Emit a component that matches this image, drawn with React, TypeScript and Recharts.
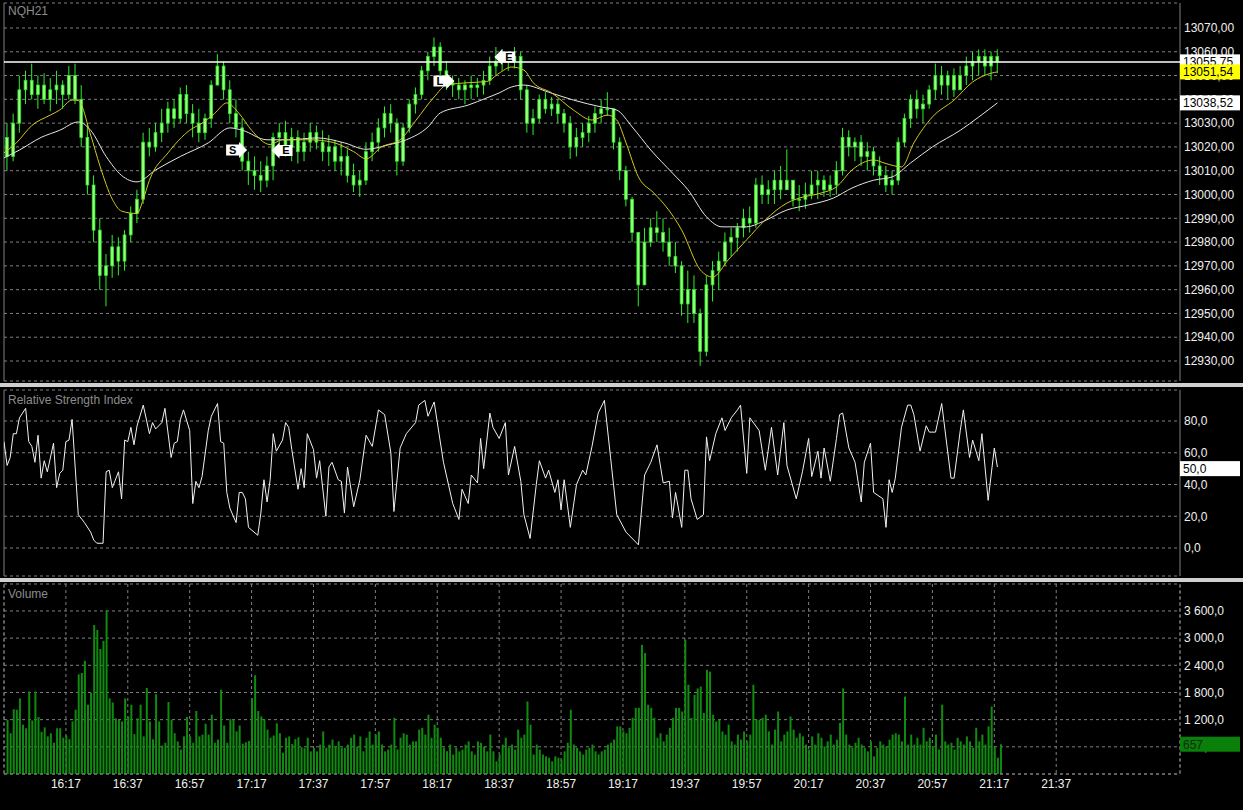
import React from "react";
import {
  ComposedChart,
  Bar,
  Line,
  XAxis,
  YAxis,
  CartesianGrid,
  ReferenceLine,
  ReferenceDot,
} from "recharts";

// minutes are counted from 15:57, the left edge of the plot
const START = 15 * 60 + 57;

const timeTicks = [
  "16:17", "16:37", "16:57", "17:17", "17:37", "17:57", "18:17", "18:37", "18:57",
  "19:17", "19:37", "19:57", "20:17", "20:37", "20:57", "21:17", "21:37",
];
const priceTicks = [12930, 12940, 12950, 12960, 12970, 12980, 12990, 13000, 13010, 13020, 13030, 13040, 13050, 13060, 13070];
const rsiTicks = [0, 20, 40, 50, 60, 80];
const volumeTicks = [0, 600, 1200, 1800, 2400, 3000, 3600];

// 2-minute candles, 15:58 .. 21:18
const firstOpen = 13024;
const highs = [
  13030, 13034, 13050, 13052, 13055, 13050, 13051, 13049, 13052, 13048,
  13054, 13055, 13046, 13030, 13008, 12990, 12975, 12983, 12982, 12985,
  12995, 13002, 13026, 13028, 13030, 13036, 13039, 13040, 13045, 13046,
  13038, 13036, 13034, 13048, 13059, 13056, 13048, 13040, 13032, 13018,
  13016, 13014, 13016, 13026, 13030, 13031, 13028, 13027, 13026, 13030,
  13029, 13027, 13025, 13023, 13022, 13019, 13013, 13010, 13022, 13026,
  13032, 13037, 13038, 13032, 13030, 13040, 13045, 13054, 13060, 13066,
  13064, 13056, 13050, 13049, 13048, 13050, 13049, 13052, 13058, 13062,
  13061, 13060, 13062, 13060, 13046, 13036, 13042, 13043, 13041, 13040,
  13036, 13033, 13028, 13030, 13033, 13037, 13040, 13043, 13036, 13024,
  13012, 12999, 12984, 12986, 12990, 12993, 12990, 12986, 12980, 12972,
  12968, 12966, 12952, 12966, 12972, 12976, 12984, 12986, 12988, 12994,
  12995, 13007, 13008, 13006, 13010, 13012, 13019, 13006, 13004, 13005,
  13010, 13010, 13008, 13008, 13014, 13028, 13027, 13024, 13025, 13022,
  13020, 13016, 13012, 13010, 13024, 13034, 13042, 13044, 13042, 13046,
  13055, 13054, 13052, 13053, 13054, 13058, 13060, 13061, 13061, 13060,
  13061,
];
const lows = [
  13010, 13014, 13026, 13038, 13040, 13036, 13038, 13035, 13038, 13036,
  13040, 13038, 13020, 13000, 12980, 12960, 12953, 12965, 12966, 12968,
  12980, 12988, 12996, 13016, 13018, 13022, 13026, 13028, 13030, 13030,
  13024, 13022, 13023, 13028, 13046, 13040, 13030, 13024, 13010, 13004,
  13002, 13001, 13003, 13006, 13018, 13016, 13014, 13013, 13014, 13018,
  13019, 13014, 13012, 13010, 13008, 13005, 13001, 12999, 13004, 13014,
  13018, 13024, 13026, 13008, 13012, 13026, 13034, 13040, 13048, 13054,
  13050, 13044, 13041, 13040, 13038, 13040, 13041, 13042, 13046, 13050,
  13052, 13052, 13053, 13040, 13026, 13025, 13030, 13034, 13033, 13030,
  13026, 13015, 13016, 13020, 13022, 13026, 13030, 13033, 13019, 13006,
  12995, 12980, 12953, 12962, 12978, 12980, 12976, 12970, 12967, 12949,
  12946, 12946, 12928, 12932, 12955, 12960, 12970, 12974, 12976, 12982,
  12984, 12986, 12996, 12996, 12996, 12998, 13002, 12995, 12993, 12994,
  12998, 12998, 12999, 12999, 13000, 13008, 13016, 13014, 13012, 13010,
  13008, 13004, 13001, 13000, 13004, 13020, 13028, 13032, 13030, 13036,
  13040, 13042, 13040, 13041, 13044, 13046, 13048, 13050, 13050, 13048,
  13051,
];
const closes = [
  13016, 13030, 13044, 13048, 13042, 13046, 13040, 13044, 13046, 13042,
  13050, 13040, 13024, 13004, 12985, 12966, 12970, 12978, 12972, 12983,
  12992, 12998, 13022, 13020, 13026, 13030, 13036, 13032, 13042, 13034,
  13030, 13026, 13032, 13046, 13054, 13044, 13034, 13028, 13014, 13010,
  13008, 13006, 13012, 13024, 13026, 13020, 13024, 13018, 13022, 13026,
  13022, 13018, 13020, 13014, 13016, 13008, 13004, 13006, 13018, 13022,
  13028, 13034, 13030, 13014, 13028, 13038, 13042, 13052, 13058, 13062,
  13052, 13047, 13046, 13044, 13046, 13045, 13046, 13048, 13054, 13056,
  13058, 13056, 13058, 13044, 13030, 13032, 13040, 13036, 13038, 13034,
  13030, 13020, 13024, 13026, 13030, 13034, 13036, 13036, 13022, 13010,
  12998, 12984, 12962, 12980, 12986, 12984, 12980, 12974, 12970, 12954,
  12960, 12950, 12934, 12962, 12968, 12972, 12980, 12982, 12986, 12990,
  12988, 13004, 13000, 13002, 13006, 13002, 13006, 12998, 12998, 13000,
  13004, 13006, 13002, 13004, 13010, 13024, 13020, 13022, 13016, 13018,
  13012, 13008, 13004, 13006, 13022, 13032, 13040, 13036, 13038, 13044,
  13050, 13046, 13050, 13044, 13050, 13054, 13056, 13058, 13054, 13058,
  13055.75,
];

// [minute, value]
const yellowMa = [
  [0, 13017.5], [4, 13021.7], [9, 13029], [15, 13033.4], [18, 13035.5], [22, 13039.7], [24, 13039.5],
  [28, 13025], [31, 13012], [35, 12998], [38, 12993], [43, 12992], [45, 12998], [47, 13006],
  [53, 13017.5], [60, 13027], [64, 13030], [68, 13034], [72, 13038.5], [76, 13034], [80, 13027],
  [86, 13021], [90, 13023], [99, 13023], [106, 13022], [113, 13018], [117, 13015], [122, 13020],
  [128, 13023], [133, 13031], [139, 13041], [143, 13046], [150, 13047], [156, 13047.5], [160, 13051],
  [164, 13053.6], [168, 13052.3], [171, 13047], [177, 13042.7], [184, 13035.5], [190, 13031.3],
  [195, 13033.4], [198, 13031.3], [201, 13021.7], [205, 13007.4], [210, 13000.6], [214, 12994.8],
  [219, 12985], [225, 12968.3], [229, 12965.3], [234, 12972.5], [240, 12981], [246, 12989.3],
  [253, 12996.4], [257, 12998.5], [264, 13000.6], [269, 13003.2], [274, 13010.3], [281, 13014.5],
  [285, 13013], [290, 13011.6], [294, 13021.7], [300, 13032.6], [307, 13039.7], [313, 13047.3],
  [319, 13051], [321, 13051.54],
];
const whiteMa = [
  [0, 13015.4], [5, 13018.7], [12, 13024], [18, 13027], [24, 13030.5], [28, 13027], [33, 13016],
  [38, 13008], [43, 13005.3], [49, 13010.3], [57, 13016], [66, 13021.7], [73, 13028], [77, 13027],
  [85, 13023], [92, 13023], [101, 13023.8], [110, 13021.7], [117, 13019], [124, 13020.8],
  [130, 13023], [137, 13028.4], [141, 13034.3], [150, 13037.6], [156, 13040.6], [160, 13042.7],
  [164, 13045.2], [168, 13046], [176, 13043], [184, 13039.7], [193, 13036.8], [198, 13035.5],
  [203, 13028.4], [209, 13018.7], [216, 13009], [221, 13002], [227, 12990.6], [232, 12986.4],
  [240, 12986.4], [245, 12988.5], [253, 12993.5], [260, 12995.6], [268, 12998.5], [274, 13002.7],
  [281, 13006], [287, 13007.4], [293, 13013.3], [300, 13020], [309, 13027], [315, 13032.6],
  [321, 13038.52],
];

// [minute, RSI]
const rsi = [
  [0, 67], [1, 52], [2, 57], [3, 72], [4, 72], [5, 82], [7, 88], [8, 67], [9, 64], [10, 54],
  [11, 71], [12, 44], [13, 55], [14, 48], [16, 66], [17, 38], [18, 47], [19, 49], [20, 67], [21, 68],
  [22, 81], [23, 51], [24, 21], [26, 16], [28, 10], [29, 5], [30, 3], [32, 3], [33, 48], [34, 49],
  [35, 38], [37, 48], [38, 31], [39, 68], [40, 67], [41, 76], [42, 65], [43, 77], [45, 90], [47, 72],
  [48, 79], [49, 75], [51, 79], [52, 88], [54, 57], [55, 66], [56, 67], [57, 81], [58, 87], [60, 74],
  [61, 28], [62, 42], [63, 38], [64, 45], [66, 74], [67, 83], [69, 91], [70, 67], [71, 66], [72, 35],
  [73, 25], [75, 16], [76, 35], [77, 35], [78, 31], [79, 13], [82, 8], [83, 22], [84, 43], [85, 29],
  [86, 43], [87, 72], [88, 61], [90, 68], [91, 79], [92, 76], [93, 62], [95, 37], [96, 50],
  [97, 38], [98, 72], [100, 62], [101, 44], [102, 55], [104, 20], [105, 51], [106, 54], [108, 43],
  [109, 42], [110, 22], [111, 51], [113, 26], [115, 43], [117, 71], [119, 64], [121, 87], [123, 84],
  [125, 60], [126, 23], [128, 63], [130, 72], [133, 79], [134, 90], [136, 93], [137, 83], [139, 92],
  [142, 54], [145, 28], [147, 18], [148, 37], [150, 28], [151, 46], [153, 41], [154, 69], [155, 50],
  [157, 85], [158, 76], [160, 69], [162, 79], [163, 46], [165, 64], [167, 42], [168, 21], [170, 6],
  [172, 40], [173, 55], [175, 44], [176, 49], [178, 35], [179, 43], [180, 24], [181, 43], [183, 13],
  [185, 40], [187, 49], [188, 46], [190, 64], [192, 85], [194, 93], [196, 57], [198, 21], [201, 10],
  [205, 2], [207, 46], [209, 54], [211, 65], [213, 41], [215, 42], [216, 19], [217, 35], [219, 13],
  [220, 49], [221, 49], [222, 31], [224, 18], [226, 21], [227, 70], [228, 55], [230, 72], [232, 82],
  [233, 74], [235, 82], [237, 87], [238, 90], [240, 47], [241, 82], [244, 74], [246, 49], [248, 76],
  [250, 46], [252, 79], [253, 52], [256, 31], [258, 48], [260, 69], [261, 45], [263, 61], [264, 44],
  [265, 63], [267, 42], [269, 69], [270, 84], [271, 85], [273, 63], [275, 54], [277, 29], [278, 54],
  [280, 66], [281, 35], [284, 31], [285, 13], [286, 43], [287, 35], [288, 44], [290, 76], [292, 90],
  [293, 90], [294, 84], [296, 61], [298, 77], [299, 73], [301, 73], [303, 91], [306, 44], [307, 44],
  [309, 74], [310, 87], [312, 57], [313, 68], [315, 55], [316, 72], [318, 30], [320, 63], [321, 51],
];

// 1-minute volume, 15:58 .. 21:19
const volumes = [
  1200, 900, 1430, 1420, 1670, 1090, 1010, 1820, 1180, 1820,
  1260, 930, 1030, 830, 900, 690, 1010, 1010, 800, 850,
  770, 1160, 1420, 2200, 2230, 2500, 1530, 1790, 3290, 3180,
  2760, 2940, 3620, 1670, 1580, 1230, 1200, 1160, 1670, 1270,
  1530, 880, 1230, 1530, 830, 1900, 1160, 770, 1760, 1160,
  630, 690, 1590, 1200, 900, 720, 540, 830, 1260, 830,
  690, 1390, 830, 870, 1110, 870, 1310, 690, 760, 1860,
  1070, 690, 1210, 1200, 940, 1070, 670, 700, 730, 1670,
  2180, 1390, 1270, 1210, 980, 800, 850, 1120, 900, 470,
  800, 830, 660, 770, 810, 590, 570,
  800, 500, 580, 500, 650, 940, 580, 650, 760, 610, 720, 580,
  580, 650, 800, 870, 610, 830, 500, 800, 940, 650,
  870, 940, 650, 500, 540, 650, 1240, 540, 800, 900,
  870, 650, 720, 720, 980, 1020, 870, 1310, 800, 1090, 1020,
  800, 580, 500, 650, 430, 580, 500, 540, 650, 720, 500,
  430, 720, 690, 610, 500, 870, 500, 280, 430, 650, 800, 580,
  650, 540, 980, 800, 870, 1600, 1090, 430, 650, 540, 430,
  390, 360, 280, 390, 360, 320, 500, 690, 1420, 650, 580, 500,
  430, 540, 580, 650, 500, 430, 500, 540, 650, 690, 760, 1050,
  1050, 940, 900, 1020, 1240, 1460, 1460, 2850, 2670, 1530, 1460, 1240,
  800, 900, 720, 870, 1020, 1240, 1460, 1460, 1380, 2960, 1970, 1240,
  1750, 1890, 1930, 1350, 2300, 2260, 1310, 1160, 1200, 940, 870, 1090,
  720, 650, 870, 760, 940, 720, 870, 1970, 1200, 1200, 1240, 1310,
  940, 650, 980, 1380, 720, 870, 940, 1270, 980, 800, 900, 830,
  650, 540, 830, 650, 900, 800, 610, 720, 870, 650, 760,
  1130, 1890, 870, 650, 580, 690, 800, 650, 580, 500, 720, 390,
  580, 720, 650, 610, 760, 870, 900, 870, 720, 1710, 650,
  870, 650, 800, 650, 1020, 720, 800, 610, 870, 540, 1530,
  720, 650, 690, 540, 800, 720, 650, 830, 720, 580, 1020, 720,
  870, 650, 1050, 1490, 580, 360, 657,
];

const lastPrice = 13055.75;
const lastYellow = 13051.54;
const lastWhite = 13038.52;
const lastRsi = 50.0;
const lastVolume = 657;

const markers = [
  { time: "17:12", price: 13018.7, dir: "right", text: "S" },
  { time: "17:27", price: 13018.5, dir: "left", text: "E" },
  { time: "18:19", price: 13047.7, dir: "right", text: "L" },
  { time: "18:39", price: 13057.8, dir: "left", text: "E" },
];

const toMin = (s: string) => {
  const [h, m] = s.split(":").map(Number);
  return h * 60 + m - START;
};
const fmtTime = (t: number) => {
  const m = START + t;
  return `${Math.floor(m / 60)}:${String(m % 60).padStart(2, "0")}`;
};
const comma = (v: number, d: number) => v.toFixed(d).replace(".", ",");
const spaced = (v: number) =>
  String(Math.round(v)).replace(/\B(?=(\d{3})+(?!\d))/g, " ") + ",0";

const candles = closes.map((c, i) => ({
  t: 1 + 2 * i,
  open: i === 0 ? firstOpen : closes[i - 1],
  close: c,
  high: highs[i],
  low: lows[i],
  range: [lows[i], highs[i]],
}));
const yellowData = yellowMa.map(([t, v]) => ({ t, v }));
const whiteData = whiteMa.map(([t, v]) => ({ t, v }));
const rsiData = rsi.map(([t, v]) => ({ t, v }));
const volumeData = volumes.map((v, i) => ({ t: 1 + i, v }));
const xTicks = timeTicks.map(toMin);

const W = 1243;
const AXIS_W = 63;
const GRID = "#808080";
const TEXT = "#f0f0f0";
const FONT = "'Liberation Sans', Arial, sans-serif";
const X_DOMAIN = [0, 380];
const PRICE_DOMAIN = [12921.6, 13080.5];
const RSI_DOMAIN = [-17.64, 99.53];
const VOL_DOMAIN = [0, 4195];

const Candle = (props: any) => {
  const { x, y, width, height, payload } = props;
  if (!payload) return null;
  const { open, close, high, low } = payload;
  const top = Math.min(y, y + height);
  const h = Math.abs(height);
  const k = high === low ? 0 : h / (high - low);
  const yOf = (v: number) => top + (high - v) * k;
  const cx = x + width / 2;
  const b1 = Math.min(yOf(open), yOf(close));
  const b2 = Math.max(yOf(open), yOf(close));
  return (
    <g>
      <line x1={cx} x2={cx} y1={Math.min(top, b1)} y2={Math.max(top + h, b2)} stroke="#2cf02c" strokeWidth={1} />
      <rect x={x} y={b1} width={width} height={Math.max(1, b2 - b1)} fill="#9dff7e" stroke="#22e622" strokeWidth={0.8} />
    </g>
  );
};

const Tag = (props: any) => {
  const { viewBox, text, bg, fg } = props;
  if (!viewBox) return null;
  const x = viewBox.x + viewBox.width;
  const y = viewBox.y;
  return (
    <g>
      <rect x={x} y={y - 7.5} width={60} height={15} fill={bg} />
      <text x={x + 3} y={y + 4.5} fill={fg} fontSize={12} fontFamily={FONT}>
        {text}
      </text>
    </g>
  );
};

const Arrow = (props: any) => {
  const { cx, cy, dir, text } = props;
  if (cx == null || cy == null) return null;
  const s = dir === "right" ? 1 : -1;
  const pts = [
    [-10, -5.5], [3, -5.5], [3, -8], [11, 0], [3, 8], [3, 5.5], [-10, 5.5],
  ]
    .map(([px, py]) => `${cx + s * px},${cy + py}`)
    .join(" ");
  return (
    <g>
      <polygon points={pts} fill="#ffffff" />
      <text x={cx - s * 3.5} y={cy + 4} textAnchor="middle" fontSize={11} fontWeight="bold" fill="#000" fontFamily={FONT}>
        {text}
      </text>
    </g>
  );
};

const hiddenX = (h: number) => (
  <XAxis
    type="number"
    dataKey="t"
    domain={X_DOMAIN}
    ticks={xTicks}
    allowDataOverflow
    tick={false}
    axisLine={false}
    tickLine={false}
    height={h}
  />
);

const edges = [0, 380];

type TagSpec = { value: number; text: string; bg: string; fg: string };

// value tags sit in their own svg above the axis labels, like the platform draws them
function TagLayer(props: { top: number; height: number; margin: any; xHeight: number; domain: number[]; tags: TagSpec[] }) {
  const { top, height, margin, xHeight, domain, tags } = props;
  return (
    <div style={{ position: "absolute", left: 0, top }}>
      <ComposedChart width={W} height={height} data={[{ t: 0 }]} margin={margin}>
        {hiddenX(xHeight)}
        <YAxis
          orientation="right"
          width={AXIS_W}
          domain={domain}
          allowDataOverflow
          tick={false}
          axisLine={false}
          tickLine={false}
        />
        {tags.map((g, i) => (
          <ReferenceLine
            key={i}
            y={g.value}
            stroke="none"
            strokeOpacity={0}
            label={<Tag text={g.text} bg={g.bg} fg={g.fg} />}
          />
        ))}
      </ComposedChart>
    </div>
  );
}

const priceMargin = { top: 3, right: 0, bottom: 2, left: 4 };
const rsiMargin = { top: 3, right: 0, bottom: 2, left: 4 };
const volMargin = { top: 2, right: 0, bottom: 6, left: 4 };

export default function App() {
  return (
    <div
      style={{
        position: "absolute",
        left: 0,
        top: 0,
        width: W,
        height: 810,
        background: "#000",
        overflow: "hidden",
        fontFamily: FONT,
      }}
    >
      {/* price panel */}
      <div style={{ position: "absolute", left: 0, top: 0 }}>
        <ComposedChart width={W} height={383} data={candles} margin={priceMargin}>
          <CartesianGrid stroke={GRID} strokeDasharray="3 3" />
          {hiddenX(0)}
          <YAxis
            orientation="right"
            width={AXIS_W}
            domain={PRICE_DOMAIN}
            allowDataOverflow
            ticks={priceTicks}
            tickFormatter={(v: number) => comma(v, 2)}
            tick={{ fill: TEXT, fontSize: 12 }}
            tickSize={0}
            tickMargin={4}
            axisLine={false}
            tickLine={false}
          />
          {edges.map((e) => (
            <ReferenceLine key={e} x={e} stroke={GRID} strokeDasharray="3 3" />
          ))}
          <Bar dataKey="range" barSize={4} shape={(p: any) => <Candle {...p} />} isAnimationActive={false} />
          <Line data={whiteData} dataKey="v" type="monotone" stroke="#e6e6e6" strokeWidth={1} dot={false} isAnimationActive={false} />
          <Line data={yellowData} dataKey="v" type="monotone" stroke="#d2c81e" strokeWidth={1} dot={false} isAnimationActive={false} />
          {markers.map((m, i) => (
            <ReferenceDot
              key={i}
              x={toMin(m.time)}
              y={m.price}
              r={0}
              ifOverflow="visible"
              shape={(p: any) => <Arrow {...p} dir={m.dir} text={m.text} />}
            />
          ))}
          <ReferenceLine y={lastPrice} stroke="#ffffff" strokeWidth={1.5} />
        </ComposedChart>
      </div>
      <TagLayer
        top={0}
        height={383}
        margin={priceMargin}
        xHeight={0}
        domain={PRICE_DOMAIN}
        tags={[
          { value: lastPrice, text: comma(lastPrice, 2), bg: "#ffffff", fg: "#000" },
          { value: lastYellow, text: comma(lastYellow, 2), bg: "#ffff00", fg: "#000" },
          { value: lastWhite, text: comma(lastWhite, 2), bg: "#ffffff", fg: "#000" },
        ]}
      />
      <div style={{ position: "absolute", left: 8, top: 4, color: "#8c8c8c", fontSize: 12 }}>NQH21</div>

      <div style={{ position: "absolute", left: 0, top: 383, width: W, height: 4, background: "#cfcfcf" }} />

      {/* RSI panel */}
      <div style={{ position: "absolute", left: 0, top: 387 }}>
        <ComposedChart width={W} height={191} data={rsiData} margin={rsiMargin}>
          <CartesianGrid stroke={GRID} strokeDasharray="3 3" />
          {hiddenX(0)}
          <YAxis
            orientation="right"
            width={AXIS_W}
            domain={RSI_DOMAIN}
            allowDataOverflow
            ticks={rsiTicks}
            tickFormatter={(v: number) => comma(v, 1)}
            tick={{ fill: TEXT, fontSize: 12 }}
            tickSize={0}
            tickMargin={4}
            axisLine={false}
            tickLine={false}
          />
          {edges.map((e) => (
            <ReferenceLine key={e} x={e} stroke={GRID} strokeDasharray="3 3" />
          ))}
          <Line dataKey="v" type="linear" stroke="#f2f2f2" strokeWidth={1} dot={false} isAnimationActive={false} />
        </ComposedChart>
      </div>
      <TagLayer
        top={387}
        height={191}
        margin={rsiMargin}
        xHeight={0}
        domain={RSI_DOMAIN}
        tags={[{ value: lastRsi, text: comma(lastRsi, 1), bg: "#ffffff", fg: "#000" }]}
      />
      <div style={{ position: "absolute", left: 8, top: 393, color: "#8c8c8c", fontSize: 12 }}>Relative Strength Index</div>

      <div style={{ position: "absolute", left: 0, top: 578, width: W, height: 4, background: "#cfcfcf" }} />

      {/* volume panel */}
      <div style={{ position: "absolute", left: 0, top: 582 }}>
        <ComposedChart width={W} height={228} data={volumeData} margin={volMargin}>
          <CartesianGrid stroke={GRID} strokeDasharray="3 3" />
          <XAxis
            type="number"
            dataKey="t"
            domain={X_DOMAIN}
            ticks={xTicks}
            allowDataOverflow
            interval={0}
            height={30}
            tickFormatter={fmtTime}
            tick={{ fill: TEXT, fontSize: 12 }}
            tickSize={0}
            tickMargin={5}
            axisLine={{ stroke: GRID, strokeDasharray: "3 3" }}
            tickLine={false}
          />
          <YAxis
            orientation="right"
            width={AXIS_W}
            domain={VOL_DOMAIN}
            allowDataOverflow
            ticks={volumeTicks}
            tickFormatter={(v: number) => (v === 0 ? "" : spaced(v))}
            tick={{ fill: TEXT, fontSize: 12 }}
            tickSize={0}
            tickMargin={4}
            axisLine={false}
            tickLine={false}
          />
          {edges.map((e) => (
            <ReferenceLine key={e} x={e} stroke={GRID} strokeDasharray="3 3" />
          ))}
          <Bar dataKey="v" barSize={2} fill="#0f8c0f" isAnimationActive={false} />
        </ComposedChart>
      </div>
      <TagLayer
        top={582}
        height={228}
        margin={volMargin}
        xHeight={30}
        domain={VOL_DOMAIN}
        tags={[{ value: lastVolume, text: String(lastVolume), bg: "#0a7f0a", fg: "#0c2c0c" }]}
      />
      <div style={{ position: "absolute", left: 8, top: 587, color: "#8c8c8c", fontSize: 12 }}>Volume</div>
    </div>
  );
}
